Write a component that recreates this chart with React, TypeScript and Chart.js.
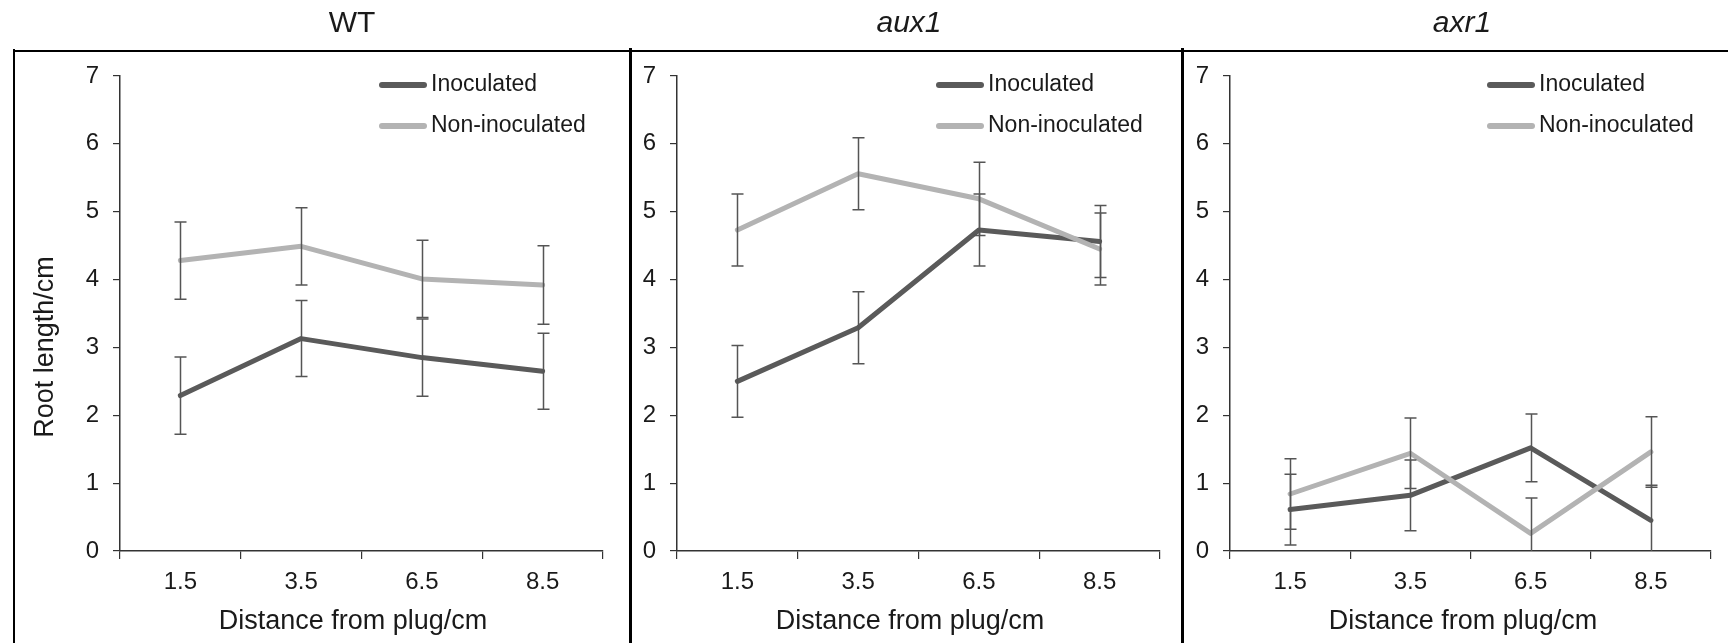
import React, { useEffect, useRef } from "react";
import { Chart, registerables } from "chart.js";

Chart.register(...registerables);

// ---------- data ----------
const categories = ["1.5", "3.5", "6.5", "8.5"];
const yTickValues = [0, 1, 2, 3, 4, 5, 6, 7];
const seriesLabels = ["Inoculated", "Non-inoculated"];
const panelTitles = ["WT", "aux1", "axr1"];
const xAxisTitle = "Distance from plug/cm";
const yAxisTitle = "Root length/cm";

const wtInoculated = [2.29, 3.13, 2.85, 2.65];
const wtInoculatedErr = [0.57, 0.56, 0.57, 0.56];
const wtNonInoculated = [4.28, 4.49, 4.01, 3.92];
const wtNonInoculatedErr = [0.57, 0.57, 0.57, 0.58];

const aux1Inoculated = [2.5, 3.29, 4.73, 4.56];
const aux1InoculatedErr = [0.53, 0.53, 0.53, 0.53];
const aux1NonInoculated = [4.73, 5.56, 5.19, 4.45];
const aux1NonInoculatedErr = [0.53, 0.53, 0.54, 0.53];

const axr1Inoculated = [0.61, 0.82, 1.52, 0.45];
const axr1InoculatedErr = [0.52, 0.52, 0.5, 0.52];
const axr1NonInoculated = [0.84, 1.44, 0.26, 1.46];
const axr1NonInoculatedErr = [0.52, 0.52, 0.52, 0.52];

const panelSeries = [
  { inoc: wtInoculated, inocErr: wtInoculatedErr, non: wtNonInoculated, nonErr: wtNonInoculatedErr },
  { inoc: aux1Inoculated, inocErr: aux1InoculatedErr, non: aux1NonInoculated, nonErr: aux1NonInoculatedErr },
  { inoc: axr1Inoculated, inocErr: axr1InoculatedErr, non: axr1NonInoculated, nonErr: axr1NonInoculatedErr },
];

// ---------- layout / style ----------
const FONT = '"Liberation Sans", Arial, sans-serif';
const TEXT = "#1a1a1a";
const DARK = "#5a5a5a";
const LIGHT = "#b3b3b3";
const H = 643;

const panelLayout = [
  { left: 14, width: 616, areaLeft: 106, padRight: 27, italic: false, yTitle: true },
  { left: 630, width: 552, areaLeft: 47, padRight: 22, italic: true, yTitle: false },
  { left: 1182, width: 546, areaLeft: 48, padRight: 17, italic: true, yTitle: false },
];

const errorBarsPlugin = {
  id: "errorBars",
  afterDatasetsDraw(chart: any) {
    const { ctx, chartArea } = chart;
    const yScale = chart.scales.y;
    ctx.save();
    ctx.beginPath();
    ctx.rect(chartArea.left - 20, chartArea.top - 20, chartArea.width + 40, chartArea.bottom - chartArea.top + 20);
    ctx.clip();
    ctx.strokeStyle = "#555555";
    ctx.lineWidth = 1.5;
    chart.data.datasets.forEach((ds: any, i: number) => {
      const meta = chart.getDatasetMeta(i);
      meta.data.forEach((pt: any, j: number) => {
        const v = ds.data[j];
        const e = ds.errors[j];
        const x = Math.round(pt.x) + 0.5;
        const yt = yScale.getPixelForValue(v + e);
        const yb = yScale.getPixelForValue(v - e);
        ctx.beginPath();
        ctx.moveTo(x, yt);
        ctx.lineTo(x, yb);
        ctx.moveTo(x - 6, yt);
        ctx.lineTo(x + 6, yt);
        ctx.moveTo(x - 6, yb);
        ctx.lineTo(x + 6, yb);
        ctx.stroke();
      });
    });
    ctx.restore();
  },
};

const decorPlugin = {
  id: "decor",
  afterDraw(chart: any, _args: any, opts: any) {
    const { ctx, chartArea } = chart;
    ctx.save();
    ctx.fillStyle = TEXT;
    ctx.textAlign = "center";
    ctx.textBaseline = "middle";
    // panel title
    ctx.font = `${opts.italic ? "italic " : ""}30px ${FONT}`;
    ctx.fillText(opts.title, chartArea.left + 232, 24);
    // x axis title
    ctx.font = `27px ${FONT}`;
    ctx.fillText(opts.xTitle, chartArea.left + 233, 622);
    // y axis title
    if (opts.yTitle) {
      ctx.save();
      ctx.translate(32, 347);
      ctx.rotate(-Math.PI / 2);
      ctx.fillText(opts.yTitle, 0, 0);
      ctx.restore();
    }
    // legend
    const lx = chartArea.right - 224;
    chart.data.datasets.forEach((ds: any, i: number) => {
      const y = chartArea.top + 9 + i * 41;
      ctx.strokeStyle = ds.borderColor;
      ctx.lineWidth = 6;
      ctx.lineCap = "round";
      ctx.beginPath();
      ctx.moveTo(lx + 3, y);
      ctx.lineTo(lx + 45, y);
      ctx.stroke();
      ctx.fillStyle = TEXT;
      ctx.textAlign = "left";
      ctx.font = `23px ${FONT}`;
      ctx.fillText(ds.label, lx + 52, y);
    });
    ctx.restore();
  },
};

function Panel({ idx }: { idx: number }) {
  const ref = useRef<HTMLCanvasElement | null>(null);
  const lay = panelLayout[idx];
  useEffect(() => {
    const s = panelSeries[idx];
    const chart = new Chart(ref.current as HTMLCanvasElement, {
      type: "line",
      data: {
        labels: categories,
        datasets: [
          {
            label: seriesLabels[0],
            data: s.inoc,
            errors: s.inocErr,
            borderColor: DARK,
            backgroundColor: DARK,
            borderWidth: 5,
            pointRadius: 0,
            borderCapStyle: "round",
            borderJoinStyle: "round",
            tension: 0,
            order: 1,
          } as any,
          {
            label: seriesLabels[1],
            data: s.non,
            errors: s.nonErr,
            borderColor: LIGHT,
            backgroundColor: LIGHT,
            borderWidth: 5,
            pointRadius: 0,
            borderCapStyle: "round",
            borderJoinStyle: "round",
            tension: 0,
            order: 0,
          } as any,
        ],
      },
      options: {
        responsive: false,
        animation: false,
        layout: { padding: { left: 0, right: lay.padRight, top: 76, bottom: 0 } },
        plugins: {
          legend: { display: false },
          title: { display: false },
          tooltip: { enabled: false },
          decor: { title: panelTitles[idx], italic: lay.italic, xTitle: xAxisTitle, yTitle: lay.yTitle ? yAxisTitle : "" },
        } as any,
        scales: {
          x: {
            type: "category",
            offset: true,
            grid: { offset: true, drawOnChartArea: false, drawTicks: true, tickLength: 8, color: "#333333", lineWidth: 1.2 },
            border: { display: true, color: "#333333", width: 1.5 },
            ticks: { color: TEXT, font: { family: FONT, size: 24 }, padding: 9, maxRotation: 0 },
            afterFit: (scale: any) => {
              scale.height = H - 551;
            },
          },
          y: {
            min: 0,
            max: 7,
            afterBuildTicks: (scale: any) => {
              scale.ticks = yTickValues.map((v) => ({ value: v }));
            },
            grid: { drawOnChartArea: false, drawTicks: true, tickLength: 7, color: "#333333", lineWidth: 1.2 },
            border: { display: true, color: "#333333", width: 1.5 },
            ticks: { color: TEXT, font: { family: FONT, size: 24 }, padding: 14 },
            afterFit: (scale: any) => {
              scale.width = lay.areaLeft;
            },
          },
        },
      },
      plugins: [errorBarsPlugin, decorPlugin],
    } as any);
    return () => chart.destroy();
  }, [idx]);
  return (
    <canvas
      ref={ref}
      width={lay.width}
      height={H}
      style={{ position: "absolute", left: lay.left, top: 0, width: lay.width, height: H }}
    />
  );
}

export default function App() {
  return (
    <div style={{ position: "absolute", left: 0, top: 0, width: 1728, height: H, background: "#ffffff", overflow: "hidden" }}>
      <Panel idx={0} />
      <Panel idx={1} />
      <Panel idx={2} />
      <div style={{ position: "absolute", left: 13, top: 50, width: 1715, height: 2, background: "#000" }} />
      <div style={{ position: "absolute", left: 13, top: 49, width: 2, height: H - 49, background: "#000" }} />
      <div style={{ position: "absolute", left: 629, top: 48, width: 3, height: H - 48, background: "#000" }} />
      <div style={{ position: "absolute", left: 1181, top: 48, width: 3, height: H - 48, background: "#000" }} />
    </div>
  );
}
